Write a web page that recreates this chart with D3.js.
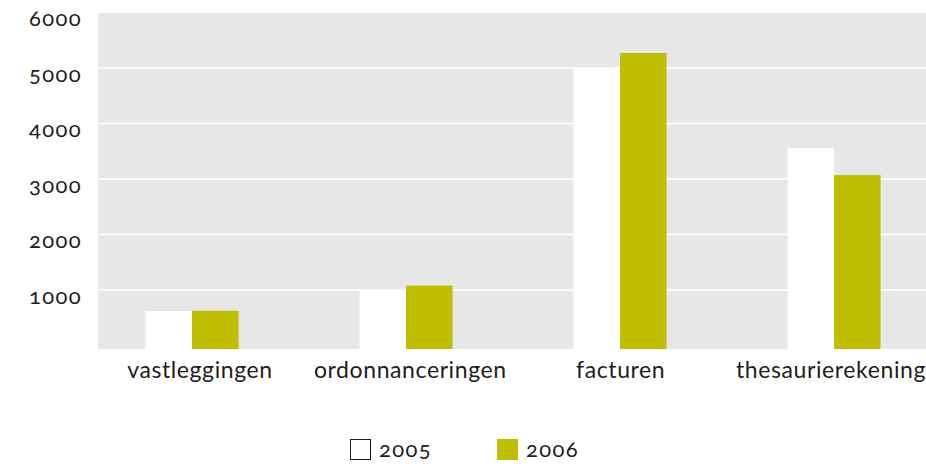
<!DOCTYPE html>
<html>
<head>
<meta charset="utf-8">
<script src="https://cdn.jsdelivr.net/npm/d3@7"></script>
<style>
  html, body { margin: 0; padding: 0; background: #ffffff; }
  svg { display: block; }
  text { font-family: Lato, "Open Sans", sans-serif; fill: #1d1d1b; font-variant-numeric: oldstyle-nums; }
</style>
</head>
<body>
<svg id="chart" width="926" height="464"></svg>
<script>
const categories = ["vastleggingen", "ordonnanceringen", "facturen", "thesaurierekening"];
const seriesNames = ["2005", "2006"];
const values2005 = [620, 990, 5000, 3560];
const values2006 = [625, 1080, 5270, 3070];
const yTicks = [1000, 2000, 3000, 4000, 5000, 6000];
const colors = { "2005": "#ffffff", "2006": "#bfbe00" };

const svg = d3.select("#chart");
const plot = { left: 98, right: 926, top: 13, bottom: 349 };

const y = d3.scaleLinear().domain([0, 6000]).range([345.5, 12.5]);
const x0 = d3.scaleBand().domain(categories).range([85, 941]).paddingInner(0.565).paddingOuter(0.2825);
const x1 = d3.scaleBand().domain(seriesNames).range([0, x0.bandwidth()]);
const xLabel = d3.scalePoint().domain(categories).range([200, 831]);

// background
svg.append("rect")
  .attr("x", plot.left).attr("y", plot.top)
  .attr("width", plot.right - plot.left).attr("height", plot.bottom - plot.top)
  .attr("fill", "#e6e7e6");

// gridlines
svg.append("g").selectAll("line").data(yTicks.slice(0, -1)).join("line")
  .attr("x1", plot.left).attr("x2", plot.right)
  .attr("y1", d => y(d)).attr("y2", d => y(d))
  .attr("stroke", "#ffffff").attr("stroke-width", 1.6);

// y tick labels
svg.append("g").selectAll("text").data(yTicks).join("text")
  .attr("x", 82).attr("y", d => y(d) + 13.5)
  .attr("text-anchor", "end")
  .attr("font-size", 22)
  .attr("letter-spacing", 1.4)
  .text(d => d);

// bars
const data = categories.map((c, i) => ({ cat: c, vals: [
  { s: "2005", v: values2005[i] }, { s: "2006", v: values2006[i] }] }));

const groups = svg.append("g").selectAll("g").data(data).join("g")
  .attr("transform", d => `translate(${x0(d.cat)},0)`);
groups.selectAll("rect").data(d => d.vals).join("rect")
  .attr("x", d => x1(d.s))
  .attr("width", x1.bandwidth())
  .attr("y", d => y(d.v))
  .attr("height", d => plot.bottom - y(d.v))
  .attr("fill", d => colors[d.s]);

// category labels
svg.append("g").selectAll("text").data(categories).join("text")
  .attr("x", d => xLabel(d))
  .attr("y", 378)
  .attr("text-anchor", "middle")
  .attr("font-size", 23)
  .attr("letter-spacing", 0.6)
  .text(d => d);

// legend
const legendX = d3.scalePoint().domain(seriesNames).range([350, 497]);
const lg = svg.append("g").selectAll("g").data(seriesNames).join("g")
  .attr("transform", d => `translate(${legendX(d)},439)`);
lg.append("rect")
  .attr("x", 0.5).attr("y", 0.5).attr("width", 20).attr("height", 20)
  .attr("fill", d => colors[d])
  .attr("stroke", d => d === "2005" ? "#1d1d1b" : colors[d])
  .attr("stroke-width", 1);
lg.append("text")
  .attr("x", 29).attr("y", 18)
  .attr("font-size", 22)
  .attr("letter-spacing", 1.4)
  .text(d => d);
</script>
</body>
</html>
